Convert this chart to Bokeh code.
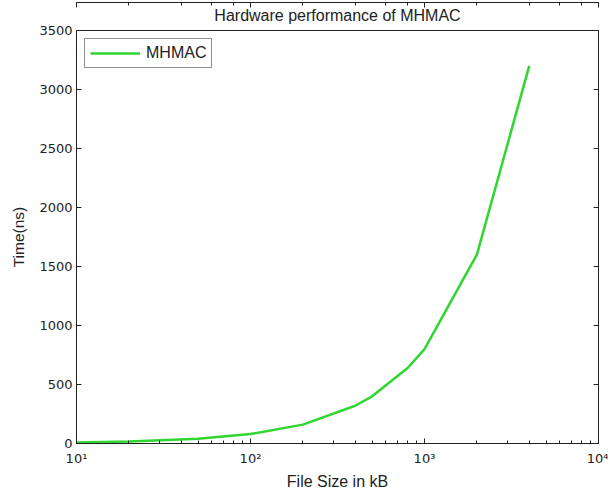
from bokeh.plotting import figure
from bokeh.models import Range1d, LogAxis, LinearAxis, Legend, LegendItem, LogTicker, Title
from bokeh.embed import file_html
from bokeh.resources import INLINE

file_size_kb = [10, 20, 50, 100, 200, 400, 500, 800, 1000, 2000, 4000]
time_ns = [8, 16, 40, 80, 160, 320, 400, 640, 800, 1600, 3200]
series_name = "MHMAC"
title_text = "Hardware performance of MHMAC"
x_label = "File Size in kB"
y_label = "Time(ns)"
x_tick_labels = {10: "10\u00b9", 100: "10\u00b2", 1000: "10\u00b3", 10000: "10\u2074"}

FONT = "Liberation Sans"
TICKFONT = "DejaVu Sans"

p = figure(
    x_axis_type="log",
    x_range=Range1d(10, 10000),
    y_range=Range1d(0, 3500),
    frame_width=522, frame_height=413,
    min_border_left=76, min_border_right=10, min_border_top=30, min_border_bottom=45,
    output_backend="svg", toolbar_location=None,
)
p.add_layout(Title(text=title_text, text_font=FONT, text_font_size="16px",
                   text_font_style="normal", align="center", text_color="#222222",
                   standoff=9, vertical_align="top"), "above")

p.background_fill_color = "white"
p.border_fill_color = "white"
p.outline_line_color = "#222222"
p.outline_line_width = 1
p.grid.visible = False

r = p.line(file_size_kb, time_ns, line_color="#2fd62f", line_width=2.5)

def style_axis(ax, show_labels=True):
    ax.axis_line_color = "#222222"
    ax.major_tick_in = 5
    ax.major_tick_out = 0
    ax.minor_tick_in = 3
    ax.minor_tick_out = 0
    ax.major_tick_line_color = "#222222"
    ax.minor_tick_line_color = "#222222"
    ax.major_label_text_font = TICKFONT
    ax.major_label_text_font_size = "13px" if show_labels else "1px"
    ax.major_label_text_color = "#222222" if show_labels else None
    ax.axis_label_text_font = FONT
    ax.axis_label_text_font_size = "16px"
    ax.axis_label_text_font_style = "normal"
    ax.axis_label_text_color = "#222222"

xa = p.xaxis[0]
style_axis(xa)
xa.axis_label = x_label
xa.major_label_overrides = x_tick_labels
xa.major_label_standoff = 7
xa.axis_label_standoff = 4

ya = p.yaxis[0]
style_axis(ya)
ya.minor_tick_in = 0
ya.axis_label = y_label
ya.axis_label_text_font_size = "15.5px"
ya.major_label_standoff = 4
ya.axis_label_standoff = 9

top = LogAxis(ticker=LogTicker())
style_axis(top, show_labels=False)
top.major_label_standoff = 0
p.add_layout(top, "above")

right = LinearAxis()
style_axis(right, show_labels=False)
right.minor_tick_in = 0
right.major_label_standoff = 0
p.add_layout(right, "right")

legend = Legend(items=[LegendItem(label=series_name, renderers=[r])],
                location="top_left")
legend.label_text_font = FONT
legend.label_text_font_size = "16px"
legend.label_text_color = "#222222"
legend.border_line_color = "#222222"
legend.border_line_width = 1
legend.glyph_width = 50
legend.glyph_height = 14
legend.padding = 5
legend.margin = 8
legend.spacing = 0
legend.label_standoff = 6
p.add_layout(legend)

open("out.html", "w").write(file_html(p, INLINE))
